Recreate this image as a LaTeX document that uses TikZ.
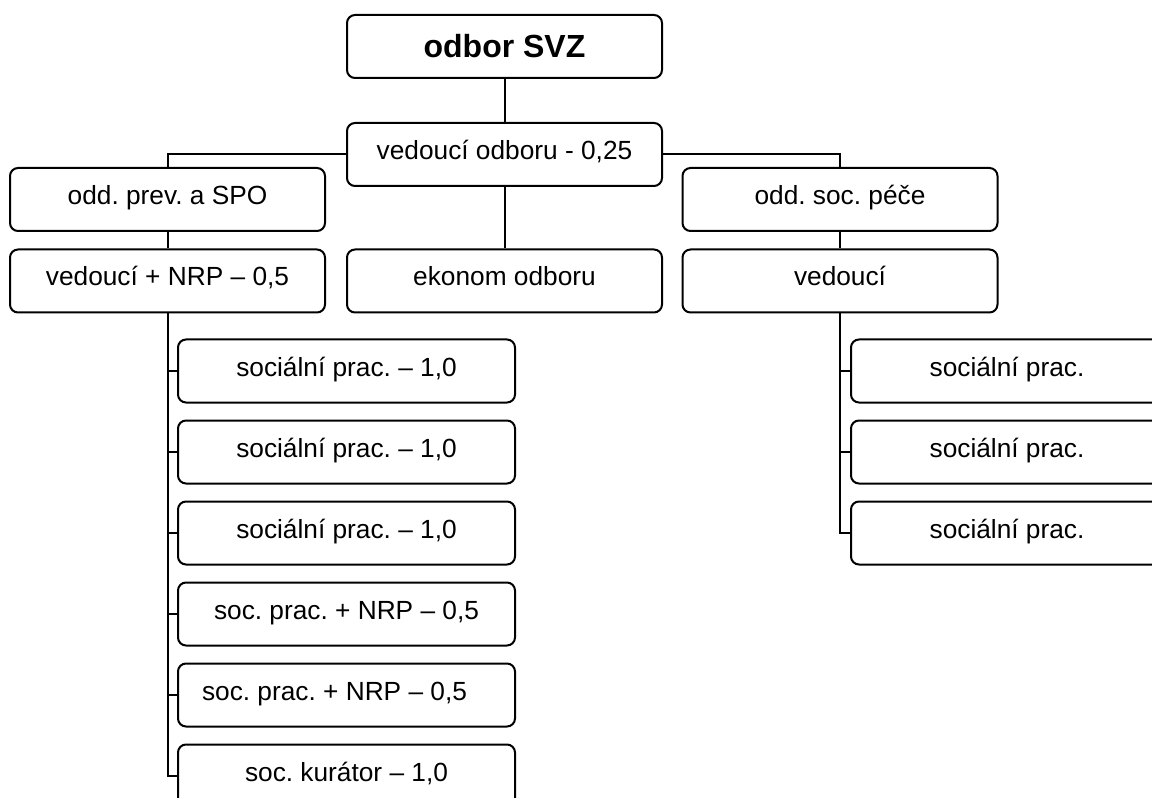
\documentclass[tikz,border=0pt]{standalone}
\usepackage{fontspec}
\setmainfont{Liberation Sans}
\frenchspacing
\begin{document}
\begin{tikzpicture}[x=0.75pt,y=-0.75pt,
  box/.style={draw,line width=1.5pt,rounded corners=6pt,minimum height=47.25pt,inner sep=0pt,
    text height=14.1pt,text depth=6.6pt,font=\fontsize{19.7}{22}\selectfont},
  topbox/.style={box,minimum width=236.25pt},
  childbox/.style={box,minimum width=252.75pt},
  link/.style={line width=1.5pt}]
\useasboundingbox (0,0) rectangle (1152,798);
\clip (0,0) rectangle (1152,798);
% upper levels
\node[topbox,font=\fontsize{24}{28}\selectfont\bfseries,text height=17.2pt,text depth=0pt] (svz) at (504.5,46.5) {odbor SVZ};
\node[topbox] (vo) at (504.5,154.5) {vedoucí odboru - 0,25};
\node[topbox] (prev) at (167.5,199.5) {odd. prev. a SPO};
\node[topbox] (soc) at (840,199.5) {odd. soc. péče};
\node[topbox] (vnrp) at (167.5,281) {vedoucí + NRP – 0,5};
\node[topbox] (ekon) at (504.5,281) {ekonom odboru};
\node[topbox] (ved) at (840,281) {vedoucí};
% left children
\node[childbox] (l1) at (346.5,371) {sociální prac. – 1,0};
\node[childbox] (l2) at (346.5,452) {sociální prac. – 1,0};
\node[childbox] (l3) at (346.5,533) {sociální prac. – 1,0};
\node[childbox] (l4) at (346.5,614) {soc. prac. + NRP – 0,5};
\node[childbox] (l5) at (346.5,695) {soc. prac. + NRP – 0,5\hspace*{18pt}};
\node[childbox] (l6) at (346.5,776) {soc. kurátor – 1,0};
% right children
\node[childbox] (r1) at (1019.5,371) {sociální prac.\hspace*{18.75pt}};
\node[childbox] (r2) at (1019.5,452) {sociální prac.\hspace*{18.75pt}};
\node[childbox] (r3) at (1019.5,533) {sociální prac.\hspace*{18.75pt}};
% connectors
\draw[link] (svz.south) -- (vo.north);
\draw[link] (vo.south) -- (ekon.north);
\draw[link] (vo.west) -| (prev.north);
\draw[link] (vo.east) -| (soc.north);
\draw[link] (prev.south) -- (vnrp.north);
\draw[link] (soc.south) -- (ved.north);
\draw[link] (vnrp.south) |- (l6.west);
\foreach \n in {l1,l2,l3,l4,l5}
  \draw[link] (vnrp.south |- \n.west) -- (\n.west);
\draw[link] (ved.south) |- (r3.west);
\foreach \n in {r1,r2}
  \draw[link] (ved.south |- \n.west) -- (\n.west);
\end{tikzpicture}
\end{document}
